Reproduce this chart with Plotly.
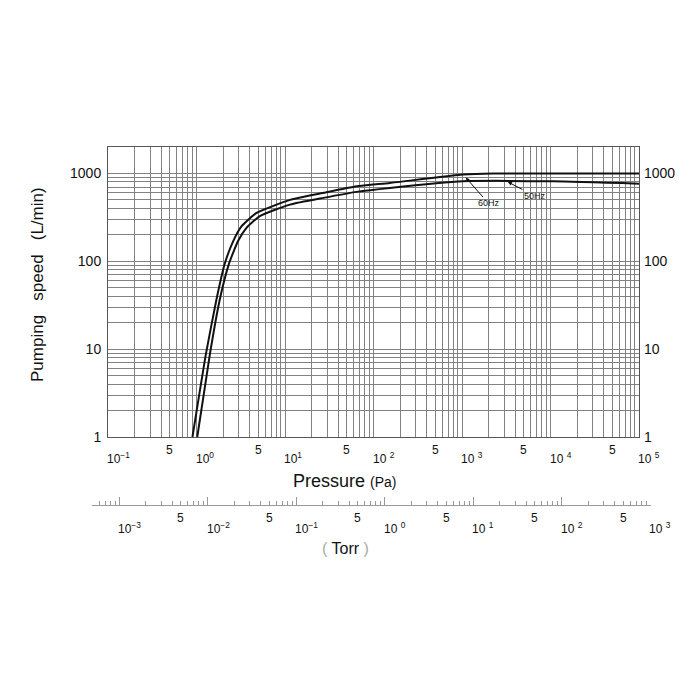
import numpy as np
import plotly.graph_objects as go

# pumping speed curves (Pa, L/min)
p_60hz = [0.90, 1.28, 1.67, 2.08, 2.60, 3.22, 4.77, 11.4, 26.8, 64.6, 153, 1025, 2240, 1e5]
s_60hz = [1, 8.9, 35.6, 93, 170, 250, 355, 500, 600, 715, 780, 970, 1000, 1000]

p_50hz = [1.02, 1.42, 1.82, 2.32, 2.95, 3.67, 5.20, 11.4, 27.1, 64.6, 153, 1025, 10700, 1e5]
s_50hz = [1, 8.9, 35.6, 93, 170, 240, 327, 442, 527, 617, 684, 813, 813, 765]

pa_decades = [1e-1, 1e0, 1e1, 1e2, 1e3, 1e4, 1e5]
pa_labels = ["10<sup>−1</sup>", "10<sup>0</sup>", "10<sup>1</sup>", "10 <sup>2</sup>",
             "10 <sup>3</sup>", "10 <sup>4</sup>", "10 <sup>5</sup>"]
pa_fives = [5e-1, 5e0, 5e1, 5e2, 5e3, 5e4]

torr_decades = [1e-3, 1e-2, 1e-1, 1e0, 1e1, 1e2, 1e3]
torr_labels = ["10<sup>−3</sup>", "10<sup>−2</sup>", "10<sup>−1</sup>", "10 <sup>0</sup>",
               "10 <sup>1</sup>", "10 <sup>2</sup>", "10 <sup>3</sup>"]
torr_fives = [5e-3, 5e-2, 5e-1, 5e0, 5e1, 5e2]

speed_ticks = [1, 10, 100, 1000]

PA_PER_TORR = 133.322
FONT = "Liberation Sans, Arial, sans-serif"
GRID = "#828282"

pa_minor = [m * 10.0 ** e for e in range(-1, 5) for m in range(2, 10)]
y_minor = [m * 10.0 ** e for e in range(0, 4) for m in range(2, 10)]
torr_minor = [m * 10.0 ** e for e in range(-4, 3) for m in range(2, 10) if m * 10.0 ** e >= 5e-4]

# layout geometry (pixels in the target picture; the page body adds 8px)
W = 700
OFF = 8
left, right, top, bottom = 92, 651, 147, 505
plot_w = right - left
plot_h = bottom - top
x0, x1 = 108, 639
y_bot = 437
dec_px = (x1 - x0) / 6.0
x_dom = [(x0 - left) / plot_w, (x1 - left) / plot_w]
y_dom0 = (bottom - y_bot) / plot_h
t_off = np.log10(PA_PER_TORR)
torr_range = [-1 - (x0 - left) / dec_px - t_off, 5 + (right - x1) / dec_px - t_off]


def px(x):
    return (x - left) / plot_w


def py(y):
    return (bottom - y) / plot_h


fig = go.Figure()
fig.add_trace(go.Scatter(x=p_60hz, y=s_60hz, name="60Hz", mode="lines",
                         line=dict(color="#111111", width=2, shape="spline", smoothing=0.5)))
fig.add_trace(go.Scatter(x=p_50hz, y=s_50hz, name="50Hz", mode="lines",
                         line=dict(color="#111111", width=2, shape="spline", smoothing=0.5)))
# helpers so the extra axes are drawn
fig.add_trace(go.Scatter(x=[1, 1000], y=[1, 1000], yaxis="y2", mode="markers",
                         marker=dict(opacity=0), hoverinfo="skip", showlegend=False))
fig.add_trace(go.Scatter(x=[1e-3, 1e3], y=[0, 1], xaxis="x2", yaxis="y3", mode="markers",
                         marker=dict(opacity=0), hoverinfo="skip", showlegend=False))

ann = []
for v, t in zip(pa_decades, pa_labels):
    ann.append(dict(x=np.log10(v), y=y_dom0, xref="x", yref="paper", text=t, showarrow=False,
                    xanchor="left", yanchor="middle", xshift=-3, yshift=-21,
                    font=dict(size=12, color="#111")))
for v in pa_fives:
    ann.append(dict(x=np.log10(v), y=y_dom0, xref="x", yref="paper", text="5", showarrow=False,
                    xanchor="center", yanchor="middle", yshift=-13,
                    font=dict(size=12, color="#111")))
for v, t in zip(torr_decades, torr_labels):
    ann.append(dict(x=np.log10(v), y=0, xref="x2", yref="paper", text=t, showarrow=False,
                    xanchor="left", yanchor="middle", xshift=-3, yshift=-23,
                    font=dict(size=12, color="#111")))
for v in torr_fives:
    ann.append(dict(x=np.log10(v), y=0, xref="x2", yref="paper", text="5", showarrow=False,
                    xanchor="center", yanchor="middle", yshift=-13,
                    font=dict(size=12, color="#111")))

ann.append(dict(x=px(37), y=py(285), xref="paper", yref="paper",
                xanchor="center", yanchor="middle",
                text="Pumping   speed   (L/min)",
                textangle=-90, showarrow=False, font=dict(size=17, color="#111")))
ann.append(dict(x=px(344), y=py(481), xref="paper", yref="paper",
                xanchor="center", yanchor="middle",
                text="Pressure <span style='font-size:14px'>(Pa)</span>",
                showarrow=False, font=dict(size=18, color="#111")))
ann.append(dict(x=px(345), y=py(548), xref="paper", yref="paper",
                xanchor="center", yanchor="middle",
                text="<span style='color:#aaa'>(</span> Torr <span style='color:#aaa'>)</span>",
                showarrow=False, font=dict(size=16, color="#111")))

ann.append(dict(x=np.log10(1100), y=np.log10(900), xref="x", yref="y", text="60Hz",
                showarrow=True, ax=23, ay=26, arrowhead=2, arrowsize=0.8, arrowwidth=1,
                arrowcolor="#111", font=dict(size=9, color="#111")))
ann.append(dict(x=np.log10(3300), y=np.log10(800), xref="x", yref="y", text="50Hz",
                showarrow=True, ax=27, ay=14, arrowhead=2, arrowsize=0.8, arrowwidth=1,
                arrowcolor="#111", font=dict(size=9, color="#111")))

fig.update_layout(
    width=W, height=W, autosize=False,
    margin=dict(l=left - OFF, r=W - right + OFF, t=top - OFF, b=W - bottom + OFF, pad=0),
    paper_bgcolor="white", plot_bgcolor="white",
    showlegend=False,
    font=dict(family=FONT, color="#111"),
    xaxis=dict(type="log", range=[-1, 5], domain=x_dom, anchor="y",
               showline=True, mirror=True, linecolor="#555", linewidth=1,
               tickvals=pa_decades, showticklabels=False, ticks="",
               showgrid=True, gridcolor=GRID, gridwidth=1, zeroline=False,
               minor=dict(tickvals=pa_minor, showgrid=True, gridcolor=GRID, gridwidth=1, ticks="")),
    yaxis=dict(type="log", range=[0, np.log10(2000)], domain=[y_dom0, 1], anchor="x",
               showline=True, mirror=True, linecolor="#555", linewidth=1,
               tickvals=speed_ticks, ticktext=[str(v) for v in speed_ticks], ticks="",
               tickfont=dict(size=14, color="#111"), ticklabelstandoff=3,
               showgrid=True, gridcolor=GRID, gridwidth=1, zeroline=False,
               minor=dict(tickvals=y_minor, showgrid=True, gridcolor=GRID, gridwidth=1, ticks="")),
    yaxis2=dict(type="log", range=[0, np.log10(2000)], overlaying="y", side="right", anchor="x",
                tickvals=speed_ticks, ticktext=[str(v) for v in speed_ticks], ticks="",
                tickfont=dict(size=14, color="#111"), ticklabelstandoff=4,
                showgrid=False, zeroline=False),
    xaxis2=dict(type="log", range=torr_range, domain=[0, 1], anchor="y3",
                showline=True, linecolor="#999", linewidth=1,
                tickvals=torr_decades, ticks="inside", ticklen=8, tickcolor="#999",
                showticklabels=False, showgrid=False, zeroline=False,
                minor=dict(tickvals=torr_minor, ticks="inside", ticklen=4, tickcolor="#999",
                           showgrid=False)),
    yaxis3=dict(domain=[0, 0.01], anchor="x2", range=[0, 1], visible=False),
    annotations=ann,
)

fig.write_html("out.html")
